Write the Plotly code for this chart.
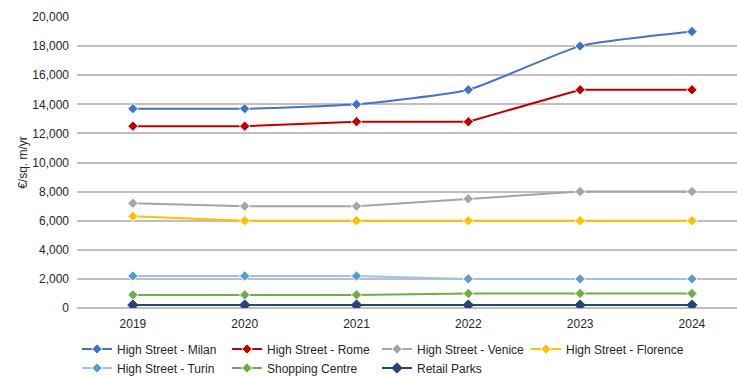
import plotly.graph_objects as go

years = ["2019", "2020", "2021", "2022", "2023", "2024"]
milan = [13700, 13700, 14000, 15000, 18000, 19000]
rome = [12500, 12500, 12800, 12800, 15000, 15000]
venice = [7200, 7000, 7000, 7500, 8000, 8000]
florence = [6300, 6000, 6000, 6000, 6000, 6000]
turin = [2200, 2200, 2200, 2000, 2000, 2000]
shopping = [900, 900, 900, 1000, 1000, 1000]
retail = [200, 200, 200, 200, 200, 200]

series = [
    ("High Street - Milan", milan, "#4472C4", "#4472C4", "white", "spline", "legend"),
    ("High Street - Rome", rome, "#C00000", "#C00000", "white", "linear", "legend"),
    ("High Street - Venice", venice, "#A5A5A5", "#A5A5A5", "white", "linear", "legend"),
    ("High Street - Florence", florence, "#FFC000", "#FFC000", "white", "linear", "legend3"),
    ("High Street - Turin", turin, "#9DC3E6", "#5B9BD5", "white", "linear", "legend2"),
    ("Shopping Centre", shopping, "#70AD47", "#70AD47", "white", "linear", "legend2"),
    ("Retail Parks", retail, "#264478", "#264478", "#264478", "linear", "legend2"),
]

fig = go.Figure()
for name, vals, lc, mc, oc, shape, lg in series:
    fig.add_trace(go.Scatter(
        x=years, y=vals, name=name, mode="lines+markers",
        line=dict(color=lc, width=2, shape=shape, smoothing=0.5),
        marker=dict(symbol="diamond", size=8, color=mc,
                    line=dict(color=oc, width=1)),
        legend=lg,
    ))

font = dict(family="Liberation Sans, Arial", size=12, color="#262626")
leg_common = dict(orientation="h", xanchor="left", yref="container",
                  yanchor="middle", font=font, itemwidth=30,
                  tracegroupgap=0, bgcolor="rgba(0,0,0,0)")
fig.update_layout(
    width=737, height=376,
    margin=dict(l=77, r=0, t=17, b=68),
    paper_bgcolor="white", plot_bgcolor="white",
    font=font,
    xaxis=dict(type="category", range=[-0.5, 5.403], showgrid=False,
               showline=False, ticks="", tickfont=font,
               ticklabelstandoff=7),
    yaxis=dict(range=[0, 20000], dtick=2000, tickformat=",",
               showgrid=True, gridcolor="#BFBFBF", gridwidth=1.5,
               zeroline=True, zerolinecolor="#BFBFBF", zerolinewidth=1.5,
               showline=False, ticks="", tickfont=font,
               ticklabelstandoff=7,
               title=dict(text="€/sq. m/yr", font=font, standoff=2)),
    legend=dict(x=0.0, y=1 - 349 / 376, entrywidth=105, **leg_common),
    legend2=dict(x=0.0, y=1 - 368 / 376, entrywidth=105, **leg_common),
    legend3=dict(x=(532 - 83) / 660, y=1 - 349 / 376, **leg_common),
)

fig.write_html("out.html")
